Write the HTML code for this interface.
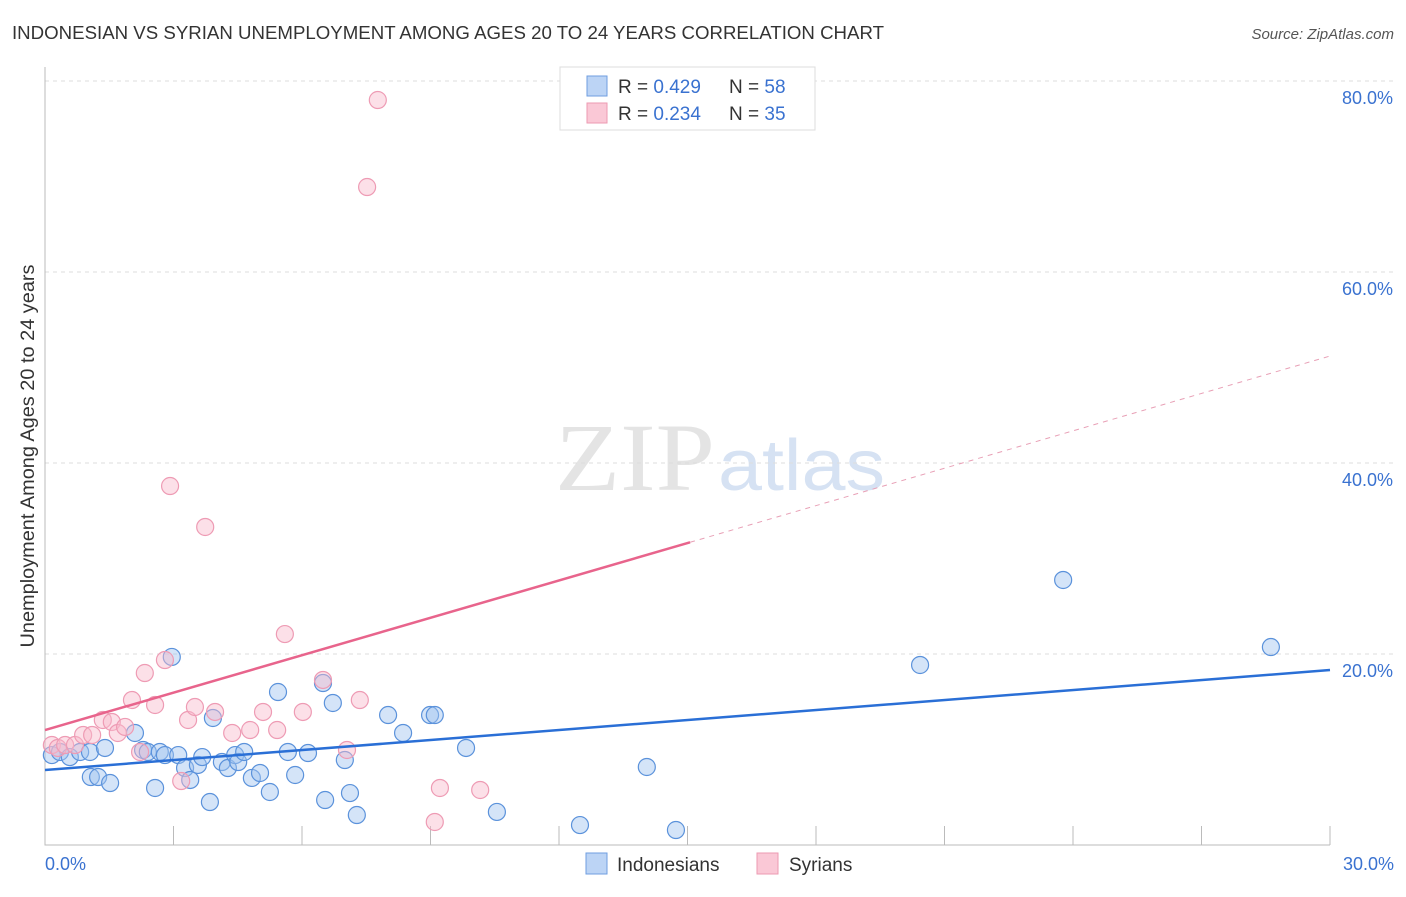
<!DOCTYPE html>
<html><head><meta charset="utf-8"><style>
body{margin:0;background:#fff;font-family:"Liberation Sans",sans-serif;}
</style></head><body>
<svg id="chart" width="1406" height="892" xmlns="http://www.w3.org/2000/svg">
<text x="12" y="39" font-size="18" fill="#333" textLength="872" lengthAdjust="spacingAndGlyphs">INDONESIAN VS SYRIAN UNEMPLOYMENT AMONG AGES 20 TO 24 YEARS CORRELATION CHART</text>
<text x="1394" y="39" font-size="15" fill="#555" font-style="italic" text-anchor="end">Source: ZipAtlas.com</text>
<text x="555" y="490" font-size="96" fill="#e4e4e4" textLength="160" lengthAdjust="spacingAndGlyphs" font-family="Liberation Serif,serif">ZIP</text>
<text x="718" y="490" font-size="72" fill="#d6e2f3" textLength="167" lengthAdjust="spacingAndGlyphs">atlas</text>
<g id="grid"></g><g id="axes"></g><g id="pts"></g><g id="lines"></g>
<text transform="translate(34,456) rotate(-90)" font-size="19" fill="#333" text-anchor="middle" textLength="383" lengthAdjust="spacingAndGlyphs">Unemployment Among Ages 20 to 24 years</text>
<text x="45" y="870" font-size="18" fill="#3a72d0">0.0%</text>
<text x="1394" y="870" font-size="18" fill="#3a72d0" text-anchor="end">30.0%</text>
<g>
<rect x="560" y="67" width="255" height="63" fill="#fff" stroke="#ddd"/>
<rect x="587" y="76" width="20" height="20" fill="#bcd4f5" stroke="#6f9ee0"/>
<rect x="587" y="103" width="20" height="20" fill="#fac8d6" stroke="#ec9ab2"/>
<text x="618" y="93" font-size="19" fill="#333">R = <tspan fill="#3a72d0">0.429</tspan></text>
<text x="729" y="93" font-size="19" fill="#333">N = <tspan fill="#3a72d0">58</tspan></text>
<text x="618" y="120" font-size="19" fill="#333">R = <tspan fill="#3a72d0">0.234</tspan></text>
<text x="729" y="120" font-size="19" fill="#333">N = <tspan fill="#3a72d0">35</tspan></text>
</g>
<g>
<rect x="586" y="853" width="21" height="21" fill="#bcd4f5" stroke="#6f9ee0"/>
<text x="617" y="871" font-size="19" fill="#333">Indonesians</text>
<rect x="757" y="853" width="21" height="21" fill="#fac8d6" stroke="#ec9ab2"/>
<text x="789" y="871" font-size="19" fill="#333">Syrians</text>
</g>
</svg>
<script>
const yTicks=[20,40,60,80];
const yTickLabels=["20.0%","40.0%","60.0%","80.0%"];
const xTicks=[0,3,6,9,12,15,18,21,24,27,30];
const indoX=[0.16,0.35,0.58,0.82,1.05,1.40,1.07,1.24,1.52,2.10,2.29,2.40,2.57,2.68,2.80,2.96,3.11,3.27,3.39,3.57,3.67,3.85,3.92,4.13,4.27,4.44,4.51,4.65,4.83,5.02,5.25,5.44,5.67,5.84,6.14,6.49,6.54,6.72,7.00,7.12,7.28,8.01,8.36,8.99,9.10,9.83,10.55,12.49,14.05,14.73,20.43,23.77,28.62];
const indoY=[9.42,9.74,9.21,9.74,9.74,10.16,7.12,7.12,6.49,11.73,9.95,9.74,5.97,9.74,9.42,19.69,9.42,8.06,6.81,8.38,9.21,4.50,13.30,8.69,8.06,9.42,8.69,9.74,7.02,7.54,5.55,16.02,9.74,7.33,9.63,16.96,4.71,14.87,8.90,5.44,3.14,13.61,11.73,13.61,13.61,10.16,3.46,2.09,8.17,1.57,18.85,27.75,20.73];
const syrX=[0.16,0.30,0.47,0.70,0.89,1.10,1.35,1.56,1.70,1.87,2.03,2.22,2.33,2.57,2.80,2.92,3.18,3.34,3.50,3.74,3.97,4.37,4.79,5.09,5.42,5.60,6.02,6.49,7.05,7.35,7.52,7.77,9.10,9.22,10.16];
const syrY=[10.47,10.16,10.47,10.47,11.52,11.52,13.09,12.88,11.73,12.36,15.18,9.74,18.01,14.66,19.37,37.59,6.70,13.09,14.45,33.30,13.93,11.73,12.04,13.93,12.04,22.09,13.93,17.28,9.95,15.18,68.90,78.01,2.41,5.97,5.76];
const indoFit=[7.85,18.32];
const syrFit=[12.04,51.2];
const NS="http://www.w3.org/2000/svg";
const X=v=>45+v/30*1285, Y=v=>845-v/20*191;
function mk(p,tag,a){const e=document.createElementNS(NS,tag);for(const k in a)e.setAttribute(k,a[k]);document.getElementById(p).appendChild(e);return e;}
yTicks.forEach((t,i)=>{
 const l=mk('grid','line',{x1:45,x2:1393,y1:Y(t),y2:Y(t),stroke:'#ddd','stroke-dasharray':'4,4'});
 
 
 const tx=mk('grid','text',{x:1393,y:Y(t)+23,'font-size':18,fill:'#3a72d0','text-anchor':'end'});
 tx.textContent=yTickLabels[i];
 
 
});
const ax=mk('axes','path',{d:'M45,67 V845 H1330',stroke:'#bbb',fill:'none'});


xTicks.forEach(t=>{const l=mk('axes','line',{x1:X(t),x2:X(t),y1:826,y2:845,stroke:'#bbb'});
 
 });
indoX.forEach((x,i)=>{const c=mk('pts','circle',{cx:X(x),cy:Y(indoY[i]),r:8.5,fill:'rgba(160,196,240,0.45)',stroke:'#5b92db','stroke-width':1.2});
 
 });
syrX.forEach((x,i)=>{const c=mk('pts','circle',{cx:X(x),cy:Y(syrY[i]),r:8.5,fill:'rgba(248,186,204,0.45)',stroke:'#ee9bb4','stroke-width':1.2});
 
 });
const b=mk('lines','line',{x1:X(0),y1:Y(indoFit[0]),x2:X(30),y2:Y(indoFit[1]),stroke:'#2a6fd6','stroke-width':2.5});


const sm=syrFit[0]+(syrFit[1]-syrFit[0])*15.06/30;
const p1=mk('lines','line',{x1:X(0),y1:Y(syrFit[0]),x2:X(15.06),y2:Y(sm),stroke:'#e8648c','stroke-width':2.5});


const p2=mk('lines','line',{x1:X(15.06),y1:Y(sm),x2:X(30),y2:Y(syrFit[1]),stroke:'#e8a0b6','stroke-width':1,'stroke-dasharray':'5,5'});


</script>
</body></html>
